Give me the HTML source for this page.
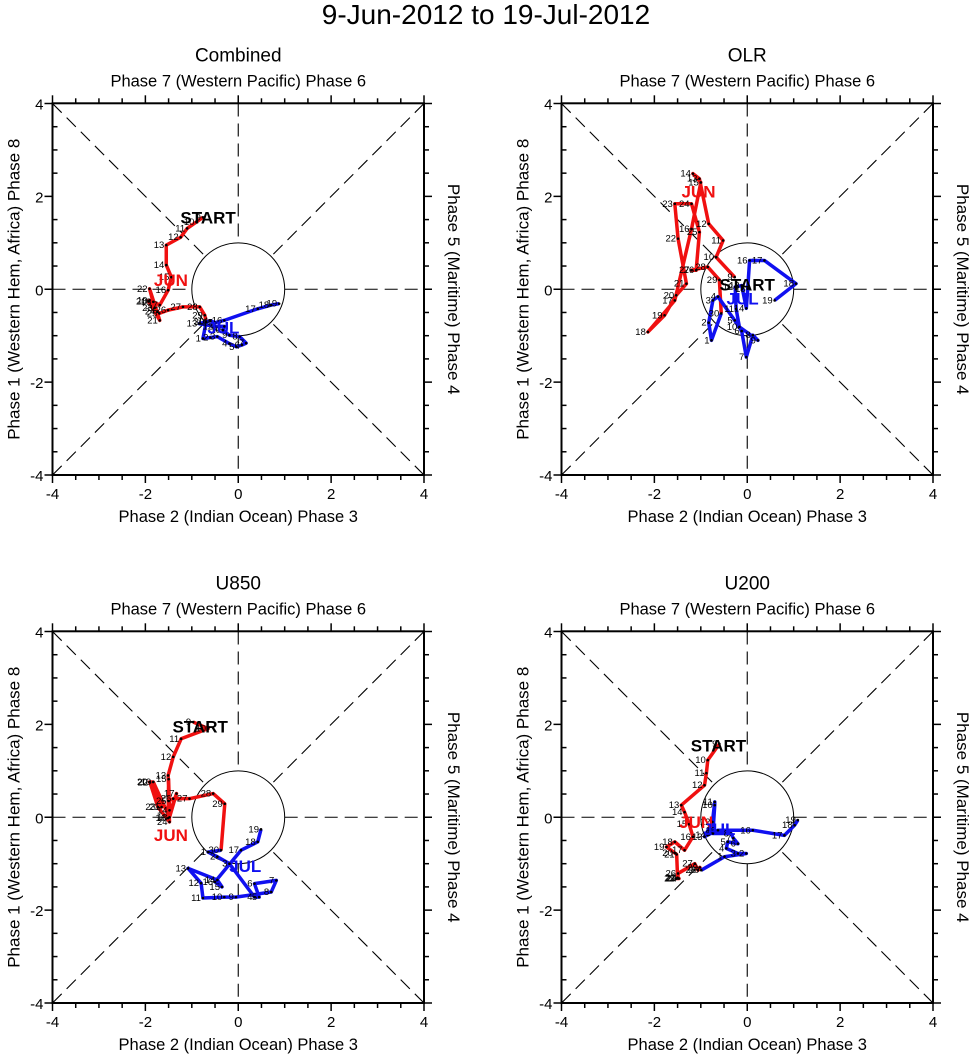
<!DOCTYPE html>
<html><head><meta charset="utf-8"><style>
body{margin:0;background:#fff;}
svg{display:block;font-family:"Liberation Sans",sans-serif;}
</style></head><body>
<svg id="chart" width="971" height="1056" viewBox="0 0 971 1056" xmlns="http://www.w3.org/2000/svg">
<text x="486" y="24" font-size="28" text-anchor="middle">9-Jun-2012 to 19-Jul-2012</text>
</svg>
<script>
// ---- data (RMM1, RMM2) ----
const junDays = [9,10,11,12,13,14,15,16,17,18,19,20,21,22,23,24,25,26,27,28,29,30];
const julDays = [1,2,3,4,5,6,7,8,9,10,11,12,13,14,15,16,17,18,19];

const combinedJunX = [-0.76,-0.90,-1.10,-1.24,-1.55,-1.55,-1.44,-1.51,-1.69,-1.83,-1.91,-1.93,-1.69,-1.91,-1.80,-1.74,-1.70,-1.51,-1.19,-0.83,-0.72,-0.69];
const combinedJunY = [1.55,1.45,1.31,1.12,0.95,0.52,0.26,-0.02,-0.34,-0.27,-0.24,-0.26,-0.67,0.01,-0.40,-0.48,-0.52,-0.45,-0.38,-0.38,-0.56,-0.70];
const combinedJulX = [-0.76,-0.60,-0.45,-0.19,-0.04,0.08,0.17,0.03,-0.19,-0.33,-0.30,-0.50,-0.84,-0.60,-0.50,-0.30,0.42,0.71,0.88];
const combinedJulY = [-1.06,-1.04,-1.02,-1.17,-1.24,-1.20,-1.16,-1.02,-0.99,-0.88,-0.80,-0.80,-0.74,-0.68,-0.72,-0.67,-0.42,-0.34,-0.31];

const olrJunX = [-0.27,-0.67,-0.52,-0.83,-1.03,-1.17,-1.00,-1.20,-1.56,-2.14,-1.78,-1.53,-1.31,-1.49,-1.56,-1.20,-1.03,-1.10,-1.20,-0.85,-0.60,-0.56];
const olrJunY = [0.26,0.69,1.05,1.41,2.38,2.49,2.30,1.30,-0.24,-0.92,-0.56,-0.13,0.12,1.09,1.84,1.84,1.23,0.41,0.41,0.48,0.20,-0.52];
const olrJulX = [-0.77,-0.83,-0.74,-0.63,-0.27,-0.12,-0.02,0.12,0.23,-0.17,-0.24,-0.26,-0.12,-0.02,0.01,0.05,0.37,1.05,0.59];
const olrJulY = [-1.10,-0.72,-0.24,-0.16,-0.67,-0.90,-1.46,-0.99,-1.10,-0.81,-0.42,0.05,0.08,-0.41,0.01,0.62,0.62,0.12,-0.24];

const u850JunX = [-0.97,-0.65,-1.23,-1.40,-1.51,-1.48,-1.50,-1.51,-1.33,-1.48,-1.83,-1.91,-1.65,-1.90,-1.73,-1.48,-1.50,-1.40,-1.05,-0.54,-0.29,-0.37];
const u850JunY = [2.05,1.91,1.69,1.30,0.90,0.15,0.82,-0.02,0.51,0.00,0.76,0.76,0.22,0.75,0.22,-0.10,0.35,0.40,0.40,0.51,0.29,-0.71];
const u850JulX = [-0.65,-0.45,-0.19,0.35,0.45,0.35,0.82,0.71,-0.05,-0.30,-0.76,-0.80,-1.08,-0.45,-0.35,-0.50,0.06,0.42,0.49];
const u850JulY = [-0.75,-0.85,-1.00,-1.72,-1.72,-1.43,-1.36,-1.61,-1.72,-1.72,-1.74,-1.42,-1.10,-1.35,-1.50,-1.39,-0.71,-0.53,-0.26];

const u200JunX = [-0.60,-0.85,-0.88,-0.92,-1.42,-1.35,-1.25,-1.17,-1.35,-1.56,-1.74,-1.56,-1.52,-1.50,-1.52,-1.47,-1.49,-1.49,-1.13,-1.06,-1.02,-0.99];
const u200JunY = [1.58,1.23,0.95,0.69,0.26,0.11,-0.15,-0.42,-0.71,-0.53,-0.64,-0.77,-0.80,-1.30,-1.32,-1.32,-1.32,-1.21,-1.00,-1.14,-1.08,-1.14];
const u200JulX = [-0.49,-0.02,-0.20,-0.45,-0.42,-0.20,-0.30,-0.35,-0.74,-0.70,-0.70,-0.75,-0.92,-0.85,-0.63,0.12,0.80,1.02,1.09];
const u200JulY = [-0.85,-0.78,-0.78,-0.67,-0.53,-0.57,-0.45,-0.35,-0.35,0.26,0.33,-0.10,-0.42,-0.38,-0.28,-0.28,-0.39,-0.17,-0.06];

const panelTitles = ["Combined","OLR","U850","U200"];
const tickValues = [-4,-2,0,2,4];
const tickLabels = ["-4","-2","0","2","4"];

const NS="http://www.w3.org/2000/svg";
const svg=document.getElementById('chart');
function mk(tag,attrs,parent){const e=document.createElementNS(NS,tag);for(const k in attrs)e.setAttribute(k,attrs[k]);(parent||svg).appendChild(e);return e;}

const panels=[
 {ox:0,oy:0,jx:combinedJunX,jy:combinedJunY,lx:combinedJulX,ly:combinedJulY,jun:[-1.45,0.2],jul:[-0.32,-0.82],start:[-0.65,1.55]},
 {ox:509,oy:0,jx:olrJunX,jy:olrJunY,lx:olrJulX,ly:olrJulY,jun:[-1.05,2.1],jul:[-0.1,-0.2],start:[0,0.1]},
 {ox:0,oy:528,jx:u850JunX,jy:u850JunY,lx:u850JulX,ly:u850JulY,jun:[-1.45,-0.38],jul:[0.15,-1.05],start:[-0.82,1.95]},
 {ox:509,oy:528,jx:u200JunX,jy:u200JunY,lx:u200JulX,ly:u200JulY,jun:[-1.1,-0.1],jul:[-0.6,-0.25],start:[-0.62,1.55]}
];
const slugs=["combined","olr","u850","u200"];

panels.forEach((p,pi)=>{
 const L=52.5+p.ox,R=424+p.ox,T=103.3+p.oy,B=475+p.oy;
 const s=(R-L)/8;
 const xs=v=>L+(v+4)*s, ys=v=>B-(v+4)*s;
 const g=mk('g',{});
 
 
 const cx=xs(0),cy=ys(0);
 let t=mk('text',{x:cx,y:T-42,'font-size':19,'text-anchor':'middle'},g);t.textContent=panelTitles[pi];
 
 t=mk('text',{x:cx,y:T-17,'font-size':16.5,'text-anchor':'middle'},g);t.textContent='Phase 7 (Western Pacific) Phase 6';
 
 t=mk('text',{x:cx,y:B+47,'font-size':16.5,'text-anchor':'middle'},g);t.textContent='Phase 2 (Indian Ocean) Phase 3';
 
 t=mk('text',{x:0,y:0,'font-size':17,'text-anchor':'middle',transform:`translate(${L-33},${cy}) rotate(-90)`},g);t.textContent='Phase 1 (Western Hem, Africa) Phase 8';
 
 t=mk('text',{x:0,y:0,'font-size':17,'text-anchor':'middle',transform:`translate(${R+24},${cy}) rotate(90)`},g);t.textContent='Phase 5 (Maritime) Phase 4';
 
 const r=s;
 const dash={stroke:'#000','stroke-width':1.1,'stroke-dasharray':'13,7',fill:'none'};
 [[xs(-4),cy,cx-r,cy],[cx+r,cy,xs(4),cy],[cx,ys(4),cx,cy-r],[cx,cy+r,cx,ys(-4)]].forEach(a=>{
  const l=mk('line',Object.assign({x1:a[0],y1:a[1],x2:a[2],y2:a[3]},dash),g);
  });
 const d=r/Math.SQRT2;
 [[-1,1],[1,1],[-1,-1],[1,-1]].forEach(q=>{
  const l=mk('line',Object.assign({x1:xs(4*q[0]),y1:ys(4*q[1]),x2:cx+q[0]*d,y2:cy-q[1]*d},dash),g);
  });
 const c=mk('circle',{cx:cx,cy:cy,r:r,fill:'none',stroke:'#000','stroke-width':1},g);
 
 const fr=mk('rect',{x:L,y:T,width:R-L,height:B-T,fill:'none',stroke:'#000','stroke-width':2},g);
 
 for(let v=-4;v<=4;v+=0.5){
  const maj=(v%2===0), len=maj?8:5;
  mk('line',{x1:xs(v),y1:B,x2:xs(v),y2:B+len,stroke:'#000','stroke-width':1.5},g);
  mk('line',{x1:xs(v),y1:T,x2:xs(v),y2:T-len,stroke:'#000','stroke-width':1.5},g);
  mk('line',{x1:L,y1:ys(v),x2:maj?L-len:L+len,y2:ys(v),stroke:'#000','stroke-width':1.5},g);
  mk('line',{x1:R,y1:ys(v),x2:R+len,y2:ys(v),stroke:'#000','stroke-width':1.5},g);
 }
 tickValues.forEach((v,i)=>{
  let tx=mk('text',{x:xs(v),y:B+24,'font-size':15,'text-anchor':'middle'},g);tx.textContent=tickLabels[i];
  
  tx=mk('text',{x:L-9,y:ys(v)+6,'font-size':15,'text-anchor':'end'},g);tx.textContent=tickLabels[i];
  
 });
 const junPts=p.jx.map((v,i)=>[xs(v),ys(p.jy[i])]);
 const julPts=[junPts[junPts.length-1]].concat(p.lx.map((v,i)=>[xs(v),ys(p.ly[i])]));
 const pl1=mk('polyline',{points:junPts.map(q=>q.join(',')).join(' '),fill:'none',stroke:'#f01010','stroke-width':3.5,'stroke-linejoin':'round'},g);
 
 const pl2=mk('polyline',{points:julPts.map(q=>q.join(',')).join(' '),fill:'none',stroke:'#1010f0','stroke-width':3.5,'stroke-linejoin':'round'},g);
 
 function lab(pts,days){pts.forEach((q,i)=>{
  const dot=mk('circle',{cx:q[0],cy:q[1],r:1.3,fill:'#000'},g);
  
  const tx=mk('text',{x:q[0]-2,y:q[1]+3,'font-size':9.5,'text-anchor':'end'},g);tx.textContent=days[i];
  });}
 lab(junPts,junDays);
 lab(julPts.slice(1),julDays);
 let m=mk('text',{x:xs(p.jun[0]),y:ys(p.jun[1])+6,'font-size':17,'font-weight':'bold',fill:'#f01010','text-anchor':'middle'},g);m.textContent='JUN';
 
 m=mk('text',{x:xs(p.jul[0]),y:ys(p.jul[1])+6,'font-size':17,'font-weight':'bold',fill:'#1010f0','text-anchor':'middle'},g);m.textContent='JUL';
 
 m=mk('text',{x:xs(p.start[0]),y:ys(p.start[1])+6,'font-size':17,'font-weight':'bold',fill:'#000','text-anchor':'middle'},g);m.textContent='START';
 
});
</script>
</body></html>
